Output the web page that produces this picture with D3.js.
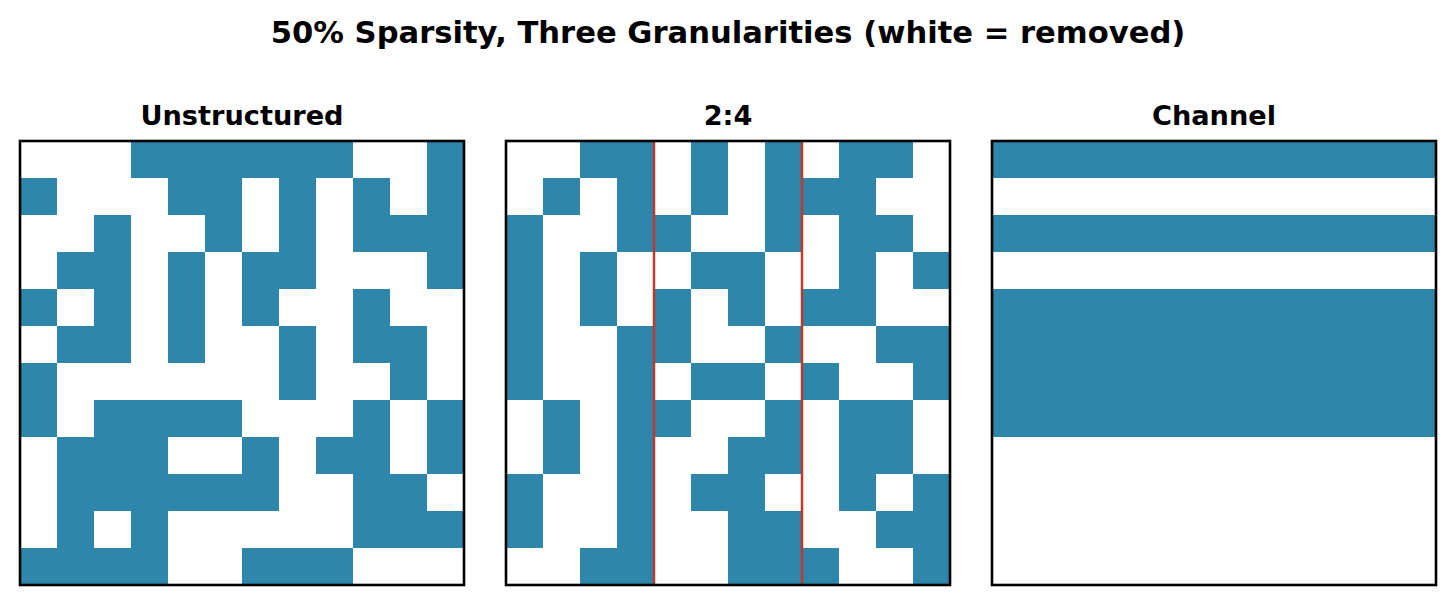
<!DOCTYPE html>
<html>
<head>
<meta charset="utf-8">
<script src="https://cdn.jsdelivr.net/npm/d3@7/dist/d3.min.js"></script>
<style>
  html, body { margin: 0; padding: 0; background: #fff; }
  svg { display: block; }
  text { font-family: "DejaVu Sans", sans-serif; font-weight: bold; fill: #000; }
</style>
</head>
<body>
<svg id="chart" width="1455" height="605"></svg>
<script>
// ---- data ----
const chartTitle = "50% Sparsity, Three Granularities (white = removed)";
const panelTitles = ["Unstructured", "2:4", "Channel"];

// 1 = kept (blue), 0 = removed (white); rows top to bottom
const unstructuredMask = [
  [0,0,0,1,1,1,1,1,1,0,0,1],
  [1,0,0,0,1,1,0,1,0,1,0,1],
  [0,0,1,0,0,1,0,1,0,1,1,1],
  [0,1,1,0,1,0,1,1,0,0,0,1],
  [1,0,1,0,1,0,1,0,0,1,0,0],
  [0,1,1,0,1,0,0,1,0,1,1,0],
  [1,0,0,0,0,0,0,1,0,0,1,0],
  [1,0,1,1,1,1,0,0,0,1,0,1],
  [0,1,1,1,0,0,1,0,1,1,0,1],
  [0,1,1,1,1,1,1,0,0,1,1,0],
  [0,1,0,1,0,0,0,0,0,1,1,1],
  [1,1,1,1,0,0,1,1,1,0,0,0]
];

const nmMask = [
  [0,0,1,1, 0,1,0,1, 0,1,1,0],
  [0,1,0,1, 0,1,0,1, 1,1,0,0],
  [1,0,0,1, 1,0,0,1, 0,1,1,0],
  [1,0,1,0, 0,1,1,0, 0,1,0,1],
  [1,0,1,0, 1,0,1,0, 1,1,0,0],
  [1,0,0,1, 1,0,0,1, 0,0,1,1],
  [1,0,0,1, 0,1,1,0, 1,0,0,1],
  [0,1,0,1, 1,0,0,1, 0,1,1,0],
  [0,1,0,1, 0,0,1,1, 0,1,1,0],
  [1,0,0,1, 0,1,1,0, 0,1,0,1],
  [1,0,0,1, 0,0,1,1, 0,0,1,1],
  [0,0,1,1, 0,0,1,1, 1,0,0,1]
];

const channelKeep = [1,0,1,0,1,1,1,1,0,0,0,0];

const groupBoundaries = [4, 8]; // 2:4 group separators (column index)
const gridSize = 12;

// ---- layout / style ----
const keptColor = "#2E86AB";
const groupLineColor = "#C0392B";
const panelLeft = [20, 506, 992];
const panelTop = 141;
const panelSize = 444;

const channelMask = channelKeep.map(k => d3.range(gridSize).map(() => k));
const masks = [unstructuredMask, nmMask, channelMask];

const svg = d3.select("#chart");

svg.append("text")
  .attr("x", 728)
  .attr("y", 43)
  .attr("text-anchor", "middle")
  .style("font-size", "30.6px")
  .text(chartTitle);

masks.forEach((mask, p) => {
  const x = d3.scaleBand().domain(d3.range(gridSize)).range([panelLeft[p], panelLeft[p] + panelSize]);
  const y = d3.scaleBand().domain(d3.range(gridSize)).range([panelTop, panelTop + panelSize]);
  const g = svg.append("g");

  const cells = [];
  mask.forEach((row, r) => row.forEach((v, c) => cells.push({ r, c, v })));

  g.selectAll("rect.cell")
    .data(cells)
    .join("rect")
    .attr("class", "cell")
    .attr("x", d => x(d.c))
    .attr("y", d => y(d.r))
    .attr("width", x.bandwidth() + 0.5)
    .attr("height", y.bandwidth() + 0.5)
    .attr("fill", d => d.v ? keptColor : "#ffffff");

  if (p === 1) {
    g.selectAll("line.group")
      .data(groupBoundaries)
      .join("line")
      .attr("class", "group")
      .attr("x1", d => x(d))
      .attr("x2", d => x(d))
      .attr("y1", panelTop)
      .attr("y2", panelTop + panelSize)
      .attr("stroke", groupLineColor)
      .attr("stroke-width", 2.5);
  }

  g.append("rect")
    .attr("x", panelLeft[p])
    .attr("y", panelTop)
    .attr("width", panelSize)
    .attr("height", panelSize)
    .attr("fill", "none")
    .attr("stroke", "#000")
    .attr("stroke-width", 2.6);

  svg.append("text")
    .attr("x", panelLeft[p] + panelSize / 2)
    .attr("y", 125)
    .attr("text-anchor", "middle")
    .style("font-size", "27.2px")
    .text(panelTitles[p]);
});
</script>
</body>
</html>
